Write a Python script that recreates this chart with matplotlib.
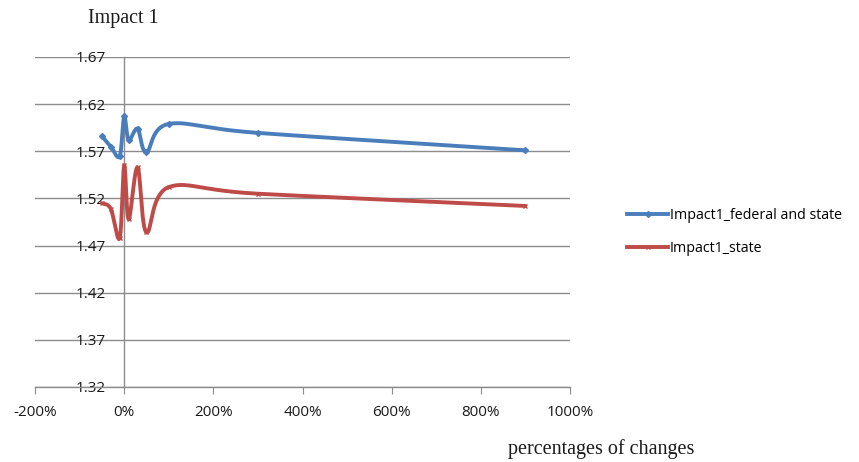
import numpy as np
import matplotlib
matplotlib.use("Agg")
import matplotlib.pyplot as plt
from matplotlib.ticker import FuncFormatter

# percentage change (x) and resulting Impact 1 values for each scenario
pct_change = [-50, -30, -10, 0, 10, 30, 50, 100, 300, 900]
federal_and_state = [1.586, 1.575, 1.565, 1.607, 1.582, 1.594, 1.569, 1.599, 1.5895, 1.571]
state_only = [1.515, 1.509, 1.478, 1.555, 1.498, 1.553, 1.484, 1.532, 1.525, 1.512]

series_names = ["Impact1_federal and state", "Impact1_state"]
y_ticks = [1.32, 1.37, 1.42, 1.47, 1.52, 1.57, 1.62, 1.67]
x_ticks = [-200, 0, 200, 400, 600, 800, 1000]


def smooth(xs, ys, n=40):
    """Bezier smoothing through every point (spreadsheet-style smoothed line)."""
    p = np.column_stack([xs, ys]).astype(float)
    m = len(p)
    out = []
    for i in range(m - 1):
        p0 = p[i - 1] if i > 0 else p[i]
        p1 = p[i]
        p2 = p[i + 1]
        p3 = p[i + 2] if i + 2 < m else p[i + 1]
        c1 = p1 + (p2 - p0) / 6.0
        c2 = p2 - (p3 - p1) / 6.0
        t = np.linspace(0, 1, n)[:, None]
        seg = ((1 - t) ** 3) * p1 + 3 * ((1 - t) ** 2) * t * c1 + 3 * (1 - t) * t ** 2 * c2 + t ** 3 * p2
        out.append(seg if i == 0 else seg[1:])
    s = np.vstack(out)
    return s[:, 0], s[:, 1]


fig = plt.figure(figsize=(8.59, 4.62), dpi=100)
ax = fig.add_axes([35 / 859, 1 - 387 / 462, 535 / 859, 330 / 462])

grid_col = "#8c8c8c"
blue = "#4a7ebb"
red = "#be4b48"
tick_font = ["Open Sans", "DejaVu Sans"]

ax.set_xlim(-200, 1000)
ax.set_ylim(1.32, 1.67)
ax.set_yticks(y_ticks)
ax.set_xticks(x_ticks)
ax.yaxis.grid(True, color=grid_col, linewidth=1.0)
ax.set_axisbelow(True)

for sp in ["top", "right"]:
    ax.spines[sp].set_visible(False)
ax.spines["left"].set_position(("data", 0))
ax.spines["left"].set_color(grid_col)
ax.spines["bottom"].set_color(grid_col)
ax.spines["left"].set_linewidth(1.0)
ax.spines["bottom"].set_linewidth(1.0)

ax.tick_params(axis="y", length=0, pad=13, labelsize=11, labelcolor="#1a1a1a")
ax.tick_params(axis="x", direction="out", length=5, color=grid_col, pad=8,
               labelsize=11, labelcolor="#1a1a1a")
ax.yaxis.set_major_formatter(FuncFormatter(lambda v, _: f"{v:.2f}"))
ax.xaxis.set_major_formatter(FuncFormatter(lambda v, _: f"{v:.0f}%"))
for lab in ax.get_xticklabels() + ax.get_yticklabels():
    lab.set_family(tick_font)

for ys, col, mk, name in [(federal_and_state, blue, "D", series_names[0]),
                          (state_only, red, "x", series_names[1])]:
    sx, sy = smooth(pct_change, ys)
    ax.plot(sx, sy, color=col, linewidth=2.8, solid_capstyle="round", zorder=3)
    ax.plot(pct_change, ys, linestyle="none", marker=mk, color=col,
            markersize=3 if mk == "D" else 3.5, markeredgewidth=1.0, zorder=4)
    ax.plot([], [], color=col, linewidth=2.8, marker=mk,
            markersize=3 if mk == "D" else 3.5, label=name)

fig.legend(loc="center left", bbox_to_anchor=(614 / 859, 1 - 232 / 462),
           frameon=False, handlelength=2.9, handletextpad=0.1,
           labelspacing=1.3, prop={"family": tick_font, "size": 10.3})

fig.text(88 / 859, 1 - 19 / 462, "Impact 1", family="Liberation Serif",
         fontsize=14.5, ha="left", va="center", color="#1a1a1a")
fig.text(508 / 859, 1 - 449 / 462, "percentages of changes", family="Liberation Serif",
         fontsize=14.5, ha="left", va="center", color="#1a1a1a")

fig.savefig("out.png", dpi=100)
